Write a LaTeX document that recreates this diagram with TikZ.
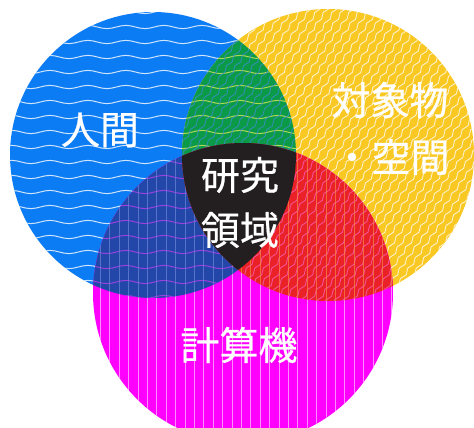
\documentclass[tikz,border=0pt]{standalone}
\usepackage{fontspec}
\newfontfamily\jpfont[FakeBold=0.6]{Noto Sans CJK JP}
\usetikzlibrary{decorations.pathmorphing}
\definecolor{cblue}{HTML}{0C7CF4}
\definecolor{cyellow}{HTML}{F9C823}
\definecolor{cmag}{HTML}{FF00FF}
\definecolor{cgreen}{HTML}{0A9A48}
\definecolor{cdblue}{HTML}{2247A8}
\definecolor{cred}{HTML}{EA2126}
\definecolor{cblack}{HTML}{231F20}
\definecolor{gH}{HTML}{C9E25A}
\definecolor{gD}{HTML}{3C8EC8}
\definecolor{dH}{HTML}{A640E6}
\definecolor{dV}{HTML}{6A86D8}
\definecolor{rD}{HTML}{F45BA8}
\definecolor{rV}{HTML}{F5874A}
\newcommand\HWaves[1]{\foreach \yy in {12,27,...,312}{\draw[hwave,#1] (0,\yy) -- (480,\yy);}}
\newcommand\DWaves[1]{\foreach \xx in {140,148.5,...,530}{\draw[dwave,#1] ({\xx-149.1},368) -- ({\xx+149.1},-58);}}
\newcommand\VLines[1]{\foreach \xx in {91,100.4,...,400}{\draw[vline,#1] (\xx,130) -- (\xx,432);}}
\begin{document}
\begin{tikzpicture}[x=1pt,y=-1pt,
  hwave/.style={decorate,decoration={snake,amplitude=1.6pt,segment length=38pt},line width=1pt},
  dwave/.style={decorate,decoration={snake,amplitude=1.3pt,segment length=13pt},line width=0.9pt},
  vline/.style={line width=0.8pt},
  lbl/.style={text=white,font=\jpfont\fontsize{39}{40}\selectfont,inner sep=0pt}]
\useasboundingbox (0,0) rectangle (474,428);
\clip (0,0) rectangle (474,428);
\coordinate (cB) at (153,155);
\coordinate (cY) at (328,155);
\coordinate (cM) at (243,293);
\def\rB{143}\def\rY{146}\def\rM{150}
% blue
\fill[cblue] (cB) circle[radius=\rB];
\begin{scope}\clip (cB) circle[radius=\rB]; \HWaves{white,opacity=.8}\end{scope}
% yellow
\fill[cyellow] (cY) circle[radius=\rY];
\begin{scope}\clip (cY) circle[radius=\rY]; \DWaves{white,opacity=.75}\end{scope}
% magenta
\fill[cmag] (cM) circle[radius=\rM];
\begin{scope}\clip (cM) circle[radius=\rM]; \VLines{white,opacity=.55}\end{scope}
% green
\begin{scope}\clip (cB) circle[radius=\rB]; \clip (cY) circle[radius=\rY];
\fill[cgreen] (0,0) rectangle (474,428);
\HWaves{gH,opacity=.85}\DWaves{gD,opacity=.8}
\end{scope}
% dark blue
\begin{scope}\clip (cB) circle[radius=\rB]; \clip (cM) circle[radius=\rM];
\fill[cdblue] (0,0) rectangle (474,428);
\HWaves{dH,opacity=.9}\VLines{dV,opacity=.7}
\end{scope}
% red
\begin{scope}\clip (cY) circle[radius=\rY]; \clip (cM) circle[radius=\rM];
\fill[cred] (0,0) rectangle (474,428);
\DWaves{rD,opacity=.85}\VLines{rV,opacity=.7}
\end{scope}
% black
\begin{scope}\clip (cB) circle[radius=\rB]; \clip (cY) circle[radius=\rY]; \clip (cM) circle[radius=\rM];
\fill[cblack] (0,0) rectangle (474,428);
\end{scope}
% labels
\node[lbl] (t1) at (100,130) {人間};
\node[lbl] (t2) at (390,100) {対象物};
\node[lbl] (t3) at (391,157) {・空間};
\node[lbl] (t4) at (240,175) {研究};
\node[lbl] (t5) at (240,230) {領域};
\node[lbl] (t6) at (239,345) {計算機};
\end{tikzpicture}
\end{document}
